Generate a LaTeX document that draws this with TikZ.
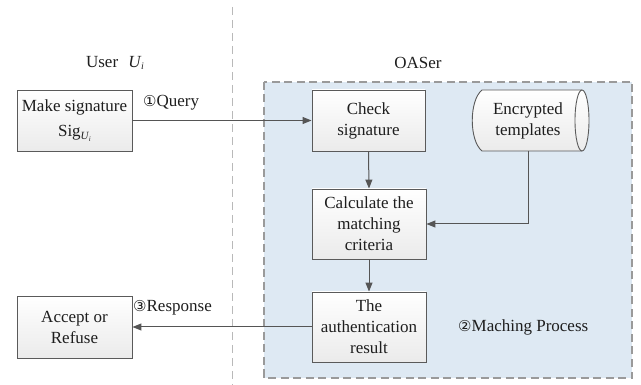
\documentclass[tikz,border=0pt]{standalone}
\usepackage{fontspec}
\setmainfont{Liberation Serif}
\newfontfamily\circfont{DejaVu Sans}
\usetikzlibrary{arrows.meta,calc}
\definecolor{regionblue}{HTML}{DEE9F3}
\definecolor{regionedge}{HTML}{9A9A9A}
\definecolor{boxedge}{HTML}{5A5A5A}
\definecolor{arrowgray}{HTML}{555555}
\definecolor{txt}{HTML}{1E1E1E}
\newcommand{\circnum}[1]{{\circfont\fontsize{15}{15}\selectfont #1}}
\newcommand{\usersub}{{\itshape U}\kern0.5pt\raisebox{-0.35ex}{\fontsize{10}{10}\selectfont\itshape i}}
\begin{document}
\begin{tikzpicture}[x=1pt,y=-1pt,
  every node/.style={text=txt,font=\fontsize{17}{21}\selectfont},
  procbox/.style={draw=boxedge,line width=0.9pt,top color=white,bottom color=gray!16,
    align=center,inner sep=2pt},
  conn/.style={draw=arrowgray,line width=1pt,-{Triangle[length=9pt,width=7pt]}},
  lbl/.style={inner sep=0pt}]
\useasboundingbox (0,0) rectangle (641,385);
% region
\path[fill=regionblue,draw=regionedge,line width=1.1pt,dash pattern=on 8pt off 4.5pt]
  (264,82) rectangle (632,378);
% separator
\draw[gray!55,line width=0.9pt,dash pattern=on 8pt off 5pt] (232,7) -- (232,385);
% titles
\node[lbl] (userlbl) at (115,63) {User\hspace{0.6em}\usersub};
\node[lbl] (oaser) at (418,63) {OASer};
% boxes
\node[procbox,minimum width=115pt,minimum height=61pt] (make) at (74.5,120.5)
  {Make signature\\[4pt]Sig\raisebox{-0.45ex}{\fontsize{11}{11}\selectfont\itshape U\kern0.3pt\raisebox{-0.3ex}{\fontsize{7}{7}\selectfont i}}};
\node[procbox,minimum width=113pt,minimum height=61pt] (check) at (368.5,120.5) {Check\\signature};
\node[procbox,minimum width=114pt,minimum height=70pt] (calc) at (369,224) {Calculate the\\matching\\criteria};
\node[procbox,minimum width=114pt,minimum height=70pt] (auth) at (369,327) {The\\authentication\\result};
\node[procbox,minimum width=115pt,minimum height=62pt] (accept) at (74.5,327) {Accept or\\Refuse};
% cylinder
\node[align=center,inner sep=0pt,minimum width=110pt,minimum height=61pt] (enc) at (528,120.5) {Encrypted\\templates};
\draw[boxedge,line width=0.9pt,top color=white,bottom color=gray!16]
  ($(enc.center)+(-46,-30.5)$) -- ($(enc.center)+(54,-30.5)$)
  arc[start angle=90,end angle=-90,x radius=7,y radius=-30.5]
  -- ($(enc.center)+(-46,30.5)$)
  .. controls ($(enc.center)+(-59,20)$) and ($(enc.center)+(-59,-20)$) .. cycle;
\draw[boxedge,line width=0.9pt] ($(enc.center)+(54,-30.5)$)
  arc[start angle=90,end angle=270,x radius=7,y radius=-30.5];
\node[align=center,inner sep=0pt] at (enc.center) {Encrypted\\templates};
% connectors
\draw[conn] (make.east) -- (check.west);
\draw[conn] (check.south) -- (calc.north);
\draw[conn] (enc.center |- 0,151) |- (calc.east);
\draw[conn] (calc.south) -- (auth.north);
\draw[conn] (auth.west) -- (accept.east);
% labels
\node[lbl,anchor=west] (qlbl) at (143,103) {\circnum{①}Query};
\node[lbl,anchor=west] (rlbl) at (133,308) {\circnum{③}Response};
\node[lbl,anchor=west] (mlbl) at (458,327) {\circnum{②}Maching Process};
\end{tikzpicture}
\end{document}
